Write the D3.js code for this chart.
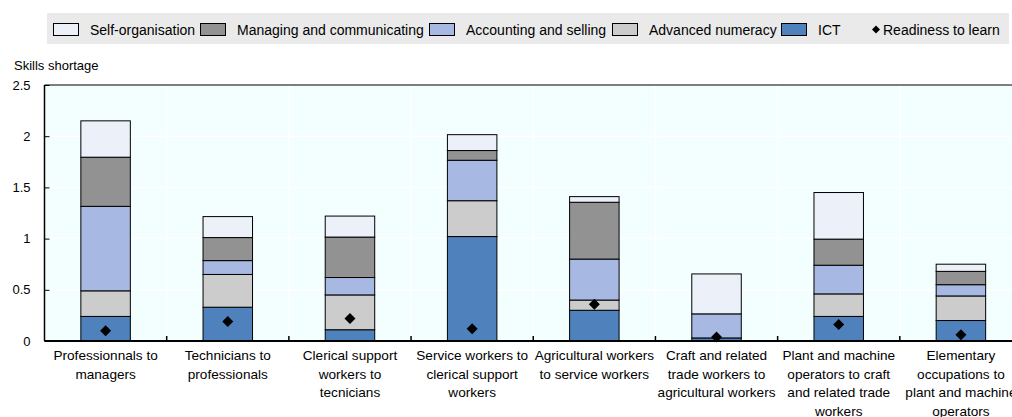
<!DOCTYPE html>
<html>
<head>
<meta charset="utf-8">
<script src="https://cdn.jsdelivr.net/npm/d3@7"></script>
<style>
  html, body { margin: 0; padding: 0; background: #fff; }
  svg { display: block; font-family: "Liberation Sans", Arial, sans-serif; }
</style>
</head>
<body>
<svg id="chart" width="1012" height="417"></svg>
<script>
// Occupation transitions (category labels, pre-split into lines)
const categories = [
  "Professionnals to managers",
  "Technicians to professionals",
  "Clerical support workers to tecnicians",
  "Service workers to clerical support workers",
  "Agricultural workers to service workers",
  "Craft and related trade workers to agricultural workers",
  "Plant and machine operators to craft and related trade workers",
  "Elementary occupations to plant and machine operators"
];
const categoryLines = [
  ["Professionnals to", "managers"],
  ["Technicians to", "professionals"],
  ["Clerical support", "workers to", "tecnicians"],
  ["Service workers to", "clerical support", "workers"],
  ["Agricultural workers", "to service workers"],
  ["Craft and related", "trade workers to", "agricultural workers"],
  ["Plant and machine", "operators to craft", "and related trade", "workers"],
  ["Elementary", "occupations to", "plant and machine", "operators"]
];

// Skills shortage components (stacked bottom to top)
const ict            = [0.24, 0.33, 0.11, 1.02, 0.30, 0.03, 0.24, 0.20];
const advNumeracy    = [0.25, 0.32, 0.34, 0.35, 0.10, 0.00, 0.22, 0.24];
const accounting     = [0.825, 0.135, 0.17, 0.395, 0.40, 0.235, 0.28, 0.11];
const managing       = [0.48, 0.225, 0.395, 0.095, 0.555, 0.00, 0.255, 0.13];
const selfOrg        = [0.355, 0.205, 0.205, 0.155, 0.055, 0.39, 0.455, 0.07];
const readiness      = [0.10, 0.19, 0.22, 0.12, 0.36, 0.04, 0.16, 0.06];

const yTicks = [0, 0.5, 1, 1.5, 2, 2.5];

const seriesDefs = [
  { key: "ict",  name: "ICT",                        values: ict,         color: "#4F81BD" },
  { key: "num",  name: "Advanced numeracy",          values: advNumeracy, color: "#CCCCCC" },
  { key: "acc",  name: "Accounting and selling",     values: accounting,  color: "#A7B9E3" },
  { key: "man",  name: "Managing and communicating", values: managing,    color: "#929292" },
  { key: "self", name: "Self-organisation",          values: selfOrg,     color: "#ECF0F8" }
];

const svg = d3.select("#chart");
const plot = { left: 44.5, top: 85, right: 1022, bottom: 341 };

const x = d3.scaleBand().domain(categories).range([plot.left, plot.right]);
const y = d3.scaleLinear().domain([0, 2.5]).range([plot.bottom, plot.top]);

// table rows for stacking
const rows = categories.map((c, i) => {
  const r = { cat: c };
  seriesDefs.forEach(s => { r[s.key] = s.values[i]; });
  return r;
});
const stacked = d3.stack().keys(seriesDefs.map(s => s.key))(rows);

// plot background
svg.append("rect")
  .attr("x", plot.left).attr("y", plot.top)
  .attr("width", plot.right - plot.left).attr("height", plot.bottom - plot.top)
  .attr("fill", "#F3FFFF");

// gridlines
const grid = svg.append("g");
grid.selectAll("line.h").data(yTicks.filter(t => t > 0 && t < 2.5)).join("line")
  .attr("x1", plot.left).attr("x2", plot.right)
  .attr("y1", d => y(d)).attr("y2", d => y(d))
  .attr("stroke", "#fff").attr("stroke-width", 1.5);
grid.selectAll("line.v").data(categories.slice(1)).join("line")
  .attr("x1", d => x(d)).attr("x2", d => x(d))
  .attr("y1", plot.top).attr("y2", plot.bottom)
  .attr("stroke", "#fff").attr("stroke-width", 1.5);

// stacked bars
const barW = x.bandwidth() * 0.405;
const barX = c => x(c) + (x.bandwidth() - barW) / 2;
seriesDefs.forEach((s, si) => {
  svg.append("g").selectAll("rect").data(stacked[si].filter(d => d[1] - d[0] > 0)).join("rect")
    .attr("x", d => barX(d.data.cat))
    .attr("width", barW)
    .attr("y", d => y(d[1]))
    .attr("height", d => y(d[0]) - y(d[1]))
    .attr("fill", s.color)
    .attr("stroke", "#000")
    .attr("stroke-width", 1);
});

// readiness to learn markers
const diamond = r => `M0,${-r}L${r},0L0,${r}L${-r},0Z`;
svg.append("g").selectAll("path").data(readiness).join("path")
  .attr("transform", (d, i) => `translate(${x(categories[i]) + x.bandwidth() / 2},${y(d)})`)
  .attr("d", diamond(5.5))
  .attr("fill", "#000");

// frame lines
svg.append("line").attr("x1", plot.left).attr("x2", plot.right)
  .attr("y1", plot.top).attr("y2", plot.top).attr("stroke", "#000").attr("stroke-width", 1.2);

// y axis
const yAxis = svg.append("g").attr("transform", `translate(${plot.left},0)`)
  .call(d3.axisLeft(y).tickValues(yTicks).tickSize(-5).tickPadding(14)
    .tickFormat(d => String(d)));
yAxis.select(".domain").attr("stroke", "#000").attr("stroke-width", 1.5)
  .attr("d", `M0,${plot.top}V${plot.bottom}`);
yAxis.selectAll(".tick line").attr("stroke", "#000");
yAxis.selectAll(".tick text").attr("font-size", 13).attr("fill", "#000")
  .attr("font-family", "\"Liberation Sans\", Arial, sans-serif");

// x axis (ticks at category boundaries)
const xAxisG = svg.append("g").attr("transform", `translate(0,${plot.bottom})`);
xAxisG.append("line").attr("x1", plot.left).attr("x2", plot.right)
  .attr("stroke", "#000").attr("stroke-width", 2);
xAxisG.selectAll("line.tk").data(categories.slice(1)).join("line")
  .attr("x1", d => x(d)).attr("x2", d => x(d))
  .attr("y1", 0).attr("y2", -5).attr("stroke", "#000").attr("stroke-width", 1.5);

const xl = xAxisG.selectAll("text").data(categories).join("text")
  .attr("text-anchor", "middle")
  .attr("font-size", 13.6)
  .attr("fill", "#000")
  .attr("transform", d => `translate(${x(d) + x.bandwidth() / 2},0)`);
xl.each(function (d, i) {
  d3.select(this).selectAll("tspan").data(categoryLines[i]).join("tspan")
    .attr("x", 0).attr("y", (t, j) => 19 + j * 18.5).text(t => t);
});

// y axis title
svg.append("text").attr("x", 14).attr("y", 70).attr("font-size", 13).attr("fill", "#000")
  .text("Skills shortage");

// legend
const legend = svg.append("g");
legend.append("rect").attr("x", 47).attr("y", 13).attr("width", 962).attr("height", 31)
  .attr("fill", "#EAEAEA");
const legendItems = [
  { s: seriesDefs[4], x: 53 },
  { s: seriesDefs[3], x: 200 },
  { s: seriesDefs[2], x: 429 },
  { s: seriesDefs[1], x: 612 },
  { s: seriesDefs[0], x: 781 }
];
legendItems.forEach(it => {
  legend.append("rect").attr("x", it.x + 0.5).attr("y", 23.5).attr("width", 25).attr("height", 12)
    .attr("fill", it.s.color).attr("stroke", "#000").attr("stroke-width", 1);
  legend.append("text").attr("x", it.x + 37).attr("y", 34.5).attr("font-size", 14).attr("fill", "#000")
    .text(it.s.name);
});
legend.append("path").attr("transform", "translate(876,29.5)").attr("d", diamond(4)).attr("fill", "#000");
legend.append("text").attr("x", 883).attr("y", 34.5).attr("font-size", 14).attr("fill", "#000")
  .text("Readiness to learn");
</script>
</body>
</html>
